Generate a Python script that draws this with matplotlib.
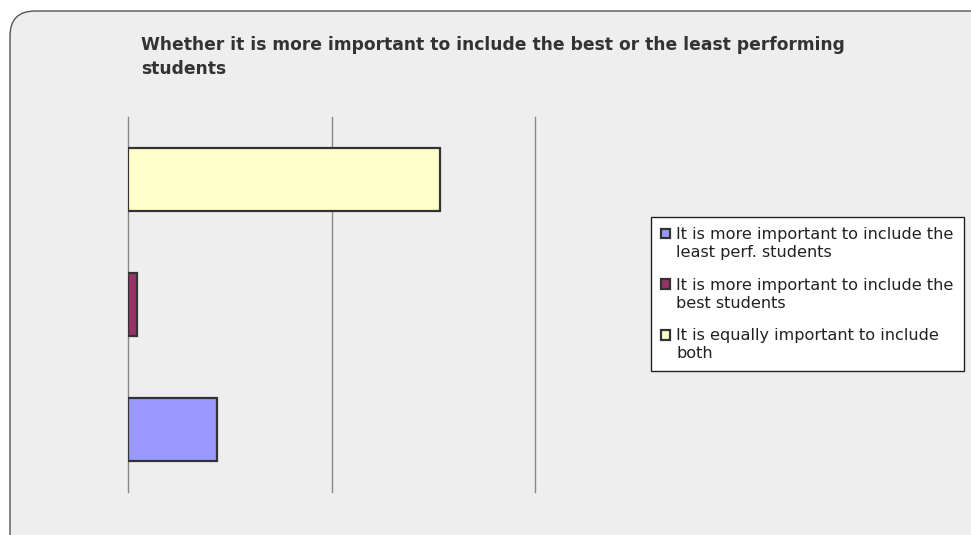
# Whether it is more important to include the best or the least performing students
import matplotlib
matplotlib.use('Agg')
import matplotlib.pyplot as plt
from matplotlib.patches import FancyBboxPatch, Rectangle
from matplotlib.container import BarContainer
from matplotlib.legend_handler import HandlerPatch, update_from_first_child

plt.rcParams['font.family'] = ['DejaVu Sans']

# Dados (proporções)
categorias = ['It is more important to include the\nleast perf. students',
              'It is more important to include the\nbest students',
              'It is equally important to include\nboth']
valores = [0.218, 0.022, 0.767]
cores = ['#9999FF', '#993366', '#FFFFCC']
grade = [0, 0.5, 1.0]

W, H = 971, 535
fig = plt.figure(figsize=(W / 100, H / 100), dpi=100)
fig.patch.set_facecolor('white')

# Fundo arredondado (estilo Excel)
fundo = FancyBboxPatch((0.10 + 0.25, -0.5), 9.9, 5.24 + 0.5 - 0.25,
                       boxstyle='round,pad=0.25', transform=fig.dpi_scale_trans,
                       facecolor='#EEEEEE', edgecolor='#555555', linewidth=1.0, zorder=-5)
fig.patches.append(fundo)

ax = fig.add_axes([128 / W, 1 - 492 / H, (535 - 128) / W, (492 - 117) / H])
ax.set_facecolor('none')

for i, (cat, v, c) in enumerate(zip(categorias, valores, cores)):
    ax.barh(i, v, height=0.5, color=c, edgecolor='#333333', linewidth=1.6, label=cat, zorder=3)

ax.set_xlim(0, 1.0)
ax.set_ylim(-0.5, 2.5)
ax.set_xticks(grade)
ax.set_yticks([])
ax.tick_params(axis='x', length=0, labelbottom=False)
ax.grid(axis='x', color='#888888', linewidth=1.0, zorder=0)
for gl in ax.get_xgridlines():
    gl.set_clip_on(False)
for s in ['top', 'right', 'bottom', 'left']:
    ax.spines[s].set_visible(False)

fig.text(141 / W, 1 - 36 / H,
         'Whether it is more important to include the best or the least performing\nstudents',
         fontsize=12.3, fontweight='bold', color='#333333', va='top', ha='left', linespacing=1.42)


# marcador da legenda alinhado com a primeira linha do texto
def quadrado(legend, orig_handle, xdescent, ydescent, width, height, fontsize):
    return Rectangle((-xdescent, -ydescent + fontsize * 0.64), width, height)


leg = fig.legend(loc='upper left', bbox_to_anchor=(651 / W, 1 - 217 / H),
                 frameon=True, fancybox=False, edgecolor='#222222', facecolor='white', framealpha=1,
                 fontsize=11.6, handlelength=0.55, handleheight=0.55, handletextpad=0.4,
                 labelspacing=1.1, borderpad=0.62, borderaxespad=0,
                 handler_map={BarContainer: HandlerPatch(patch_func=quadrado,
                                                         update_func=update_from_first_child)})
leg.get_frame().set_linewidth(1.0)
for t in leg.get_texts():
    t.set_color('#222222')
    t.set_linespacing(1.25)

plt.savefig('out.png', dpi=100)
